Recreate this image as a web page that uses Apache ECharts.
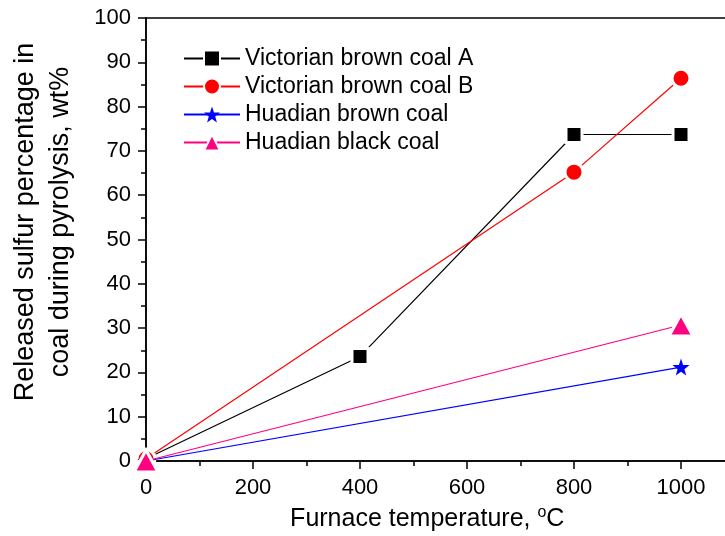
<!DOCTYPE html>
<html><head><meta charset="utf-8">
<script src="https://cdn.jsdelivr.net/npm/echarts@6/dist/echarts.min.js"></script>
<style>html,body{margin:0;padding:0;background:#fff}#c{width:725px;height:536px}</style>
</head><body><div id="c"></div>
<script>
const temps = [0, 400, 800, 1000];
const tempsHB = [0, 1000];
const vicA = [0.5, 23.6, 73.7, 73.7];
const vicB = [0.5, null, 65.2, 86.4];
const huaBrown = [0, 21.2];
const huaBlack = [0, 30.7];
const names = ['Victorian brown coal A', 'Victorian brown coal B', 'Huadian brown coal', 'Huadian black coal'];
const xTicks = [0, 200, 400, 600, 800, 1000];
const yTitle = 'Released sulfur percentage in\ncoal during pyrolysis, wt%';
const xTitle = 'Furnace temperature, {sup|o}C';

const font = 'Liberation Sans, Arial, sans-serif';
function pairs(xs, ys) { const r = []; xs.forEach((x, i) => { if (ys[i] !== null) r.push([x, ys[i]]); }); return r; }
const gap = { borderColor: '#fff', borderWidth: 3 };

const chart = echarts.init(document.getElementById('c'));
chart.setOption({
  animation: false,
  backgroundColor: '#fff',
  grid: { left: 146, top: 18, bottom: 75, right: -9.5, containLabel: false, outerBoundsMode: 'none',
    show: true, borderColor: '#000', borderWidth: 1.5, backgroundColor: 'transparent' },
  legend: {
    left: 178, top: 42, orient: 'vertical', itemGap: 5, itemWidth: 56, itemHeight: 20,
    textStyle: { fontFamily: font, fontSize: 23, color: '#000' },
    data: names
  },
  graphic: [{
    type: 'text', x: 43, y: 222, rotation: Math.PI / 2,
    style: { text: yTitle, fontFamily: font, fontSize: 27, lineHeight: 35, fill: '#000',
      align: 'center', verticalAlign: 'middle' }
  }],
  xAxis: [{
    type: 'value', min: 0, max: 1100, interval: 200,
    axisLine: { show: true, onZero: false, lineStyle: { color: '#000', width: 1.5 } },
    axisTick: { show: true, length: 8, lineStyle: { color: '#000', width: 1.5 } },
    splitLine: { show: false },
    axisLabel: { fontFamily: font, fontSize: 22, color: '#000', margin: 16,
      formatter: v => xTicks.includes(v) ? String(v) : '' },
    name: xTitle, nameLocation: 'middle', nameGap: 44,
    nameTextStyle: { fontFamily: font, fontSize: 25, color: '#000', padding: [0, 26, 0, 0],
      rich: { sup: { fontFamily: font, fontSize: 16, verticalAlign: 'top', padding: [0, 0, 12, 0], color: '#000' } } }
  }, {
    type: 'value', position: 'top', offset: -443, min: 0, max: 1100, interval: 100,
    axisLine: { show: false },
    axisTick: { show: true, inside: true, length: 5, lineStyle: { color: '#000', width: 1.5 } },
    axisLabel: { show: false }, splitLine: { show: false }
  }],
  yAxis: [{
    type: 'value', min: 0, max: 100, interval: 10,
    axisLine: { show: true, onZero: false, lineStyle: { color: '#000', width: 1.5 } },
    axisTick: { show: true, length: 8, lineStyle: { color: '#000', width: 1.5 } },
    minorTick: { show: true, splitNumber: 2, length: 5, lineStyle: { color: '#000', width: 1.5 } },
    splitLine: { show: false },
    axisLabel: { fontFamily: font, fontSize: 22, color: '#000', margin: 15 }
  }],
  series: [
    { name: names[0], type: 'line', data: pairs(temps, vicA), symbol: 'rect', symbolSize: 16,
      lineStyle: { color: '#000', width: 1.2 }, itemStyle: Object.assign({ color: '#000' }, gap), z: 3 },
    { name: names[1], type: 'line', data: pairs(temps, vicB), connectNulls: true, symbol: 'circle', symbolSize: 18,
      lineStyle: { color: '#ff0000', width: 1.2 }, itemStyle: Object.assign({ color: '#ff0000' }, gap), z: 4 },
    { name: names[2], type: 'line', data: pairs(tempsHB, huaBrown), symbol: 'path://M0,-10 L2.35,-3.24 L9.51,-3.09 L3.8,1.24 L5.88,8.09 L0,4 L-5.88,8.09 L-3.8,1.24 L-9.51,-3.09 L-2.35,-3.24 Z', symbolSize: 17,
      lineStyle: { color: '#0000ff', width: 1.2 }, itemStyle: { color: '#0000ff' }, z: 5 },
    { name: names[3], type: 'line', data: pairs(tempsHB, huaBlack), symbol: 'triangle', symbolSize: [24, 22],
      lineStyle: { color: '#ff0080', width: 1.2 }, itemStyle: Object.assign({ color: '#ff0080' }, gap), z: 6 }
  ]
});
</script></body></html>
